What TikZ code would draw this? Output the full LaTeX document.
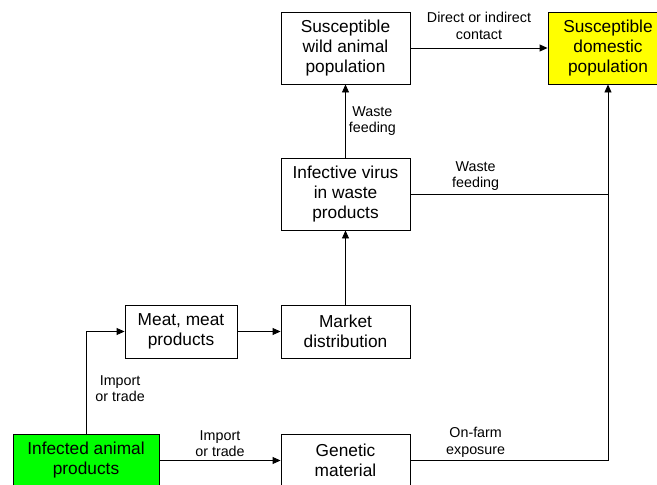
\documentclass[tikz,border=0pt]{standalone}
\usepackage{fontspec}
\setmainfont{Liberation Sans}
\usetikzlibrary{arrows.meta}
\definecolor{hostyellow}{RGB}{255,255,0}
\definecolor{sourcegreen}{RGB}{0,255,0}
\tikzset{
    box/.style={draw, line width=0.9pt, align=center, inner sep=2pt,
                font=\fontsize{17.3}{20}\selectfont},
    tallbox/.style={box, minimum width=129pt, minimum height=72pt},
    flatbox/.style={box, minimum width=129pt, minimum height=53pt},
    flow/.style={-{Triangle[length=8pt,width=7pt]}, line width=0.9pt},
    link/.style={line width=0.9pt},
    note/.style={font=\fontsize{14.3}{16.5}\selectfont, align=center, inner sep=3pt},
}

\begin{document}
\begin{tikzpicture}[x=1pt,y=-1pt]

    \useasboundingbox (0,0) rectangle (657,485);

    \node[tallbox] (wild) at (345.5,48) {Susceptible\\wild animal\\population};
    \node[tallbox, minimum width=120pt, fill=hostyellow] (domestic) at (608,48)
        {Susceptible\\domestic\\population};
    \node[tallbox] (virus) at (345.5,194) {Infective virus\\in waste\\products};
    \node[flatbox, minimum width=112pt] (meat) at (181,331.5) {Meat, meat\\products};
    \node[flatbox] (market) at (345.5,331.5) {Market\\distribution};
    \node[flatbox, minimum width=146pt, fill=sourcegreen] (source) at (86,460.5)
        {Infected animal\\products};
    \node[flatbox] (genetic) at (345.5,460.5) {Genetic\\material};

    \coordinate (join) at (virus.east -| domestic.south);
    \coordinate (farm) at (genetic.east -| domestic.south);

    \draw[flow] (wild.east) -- node[above=5pt,note] {Direct or indirect\\contact} (domestic.west);
    \draw[flow] (virus.north) -- node[right,note] {Waste\\feeding} (wild.south);
    \draw[link] (virus.east) -- node[pos=0.33,above,note] {Waste\\feeding} (join);
    \draw[flow] (genetic.east) -- node[pos=0.33,above,note] {On-farm\\exposure} (farm)
        -- (domestic.south);
    \draw[flow] (market.north) -- (virus.south);
    \draw[flow] (meat.east) -- (market.west);
    \draw[flow] (source.north) |- node[pos=0.22,right=6pt,note] {Import\\or trade} (meat.west);
    \draw[flow] (source.east) -- node[above,note] {Import\\or trade} (genetic.west);

\end{tikzpicture}
\end{document}
